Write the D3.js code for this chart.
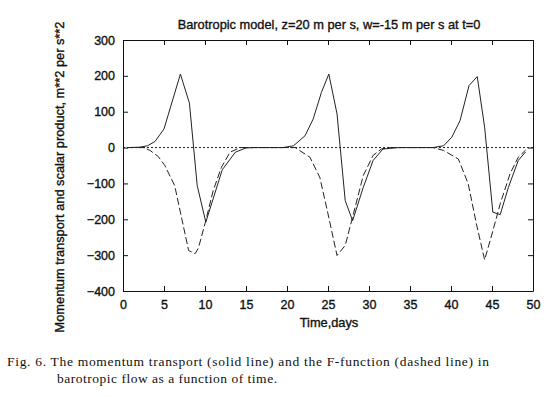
<!DOCTYPE html>
<html>
  <head>
    <meta charset="utf-8" />
    <title>Barotropic model</title>
    <script src="https://d3js.org/d3.v7.min.js"></script>
    <style>
      body { margin: 0; background: #fff; }
      svg { display: block; background: #fff; }
      .ax text, .lab { font-family: "Liberation Sans", Arial, sans-serif; fill: #111; stroke: #111; stroke-width: 0.35px; }
      .ax text { font-size: 12.5px; }
    </style>
  </head>
  <body>
    <svg width="551" height="397"></svg>
    <script>
      // momentum transport (solid line)
      const solidDays = [0.5, 2, 3, 3.9, 5, 7, 8.1, 9.05, 10.1, 12.1, 13.7, 15, 16,
        19.5, 20.8, 22.2, 23.2, 24.2, 25.1, 26.1, 27.1, 28.0, 29.3, 30.5, 31.7, 33.6,
        37.8, 39.1, 40.1, 41.1, 42.2, 43.2, 44.1, 45.1, 46.0, 47.0, 48.2, 49.1];
      const solidVals = [0, 1, 5, 17, 52, 205, 124, -106, -208, -62, -13, -1, 0,
        0, 5, 33, 80, 154, 205, 94, -148, -204, -111, -36, -4, 0,
        0, 5, 29, 75, 173, 198, 57, -180, -187, -111, -36, -12];

      // F-function (dashed line)
      const dashDays = [0.5, 2.5, 3.3, 4.3, 5.1, 6.3, 8.0, 8.8, 9.2, 10.0, 11.0, 12.0, 13.05, 14.3,
        21.0, 22.8, 24.0, 25.0, 26.1, 27.1, 28.1, 29.3, 30.5, 31.5, 32.6,
        37.8, 39.1, 40.9, 42.1, 43.1, 44.1, 45.0, 46.0, 47.2, 48.2, 49.1];
      const dashVals = [0, 0, -8, -25, -50, -106, -287, -296, -280, -212, -120, -55, -13, 0,
        0, -27, -83, -185, -301, -273, -185, -78, -22, -4, 0,
        0, -8, -32, -101, -213, -313, -241, -157, -73, -27, -7];

      const xTicks = [0, 5, 10, 15, 20, 25, 30, 35, 40, 45, 50];
      const yTicks = [-400, -300, -200, -100, 0, 100, 200, 300];

      const svg = d3.select("svg");
      const plotL = 123, plotR = 533, plotT = 40, plotB = 291;

      const x = d3.scaleLinear().domain([0, 50]).range([plotL, plotR]);
      const y = d3.scaleLinear().domain([-400, 300]).range([plotB, plotT]);

      // frame with inward ticks on all sides
      const tk = 5;
      svg.append("g").attr("class", "ax").attr("transform", `translate(0,${plotB})`)
        .call(d3.axisBottom(x).tickValues(xTicks).tickSizeInner(-tk).tickSizeOuter(0).tickPadding(9));
      svg.append("g").attr("class", "ax").attr("transform", `translate(0,${plotT})`)
        .call(d3.axisTop(x).tickValues(xTicks).tickSizeInner(-tk).tickSizeOuter(0).tickFormat(""));
      svg.append("g").attr("class", "ax").attr("transform", `translate(${plotL},0)`)
        .call(d3.axisLeft(y).tickValues(yTicks).tickSizeInner(-tk).tickSizeOuter(0).tickPadding(8));
      svg.append("g").attr("class", "ax").attr("transform", `translate(${plotR},0)`)
        .call(d3.axisRight(y).tickValues(yTicks).tickSizeInner(-tk).tickSizeOuter(0).tickFormat(""));
      svg.selectAll(".ax .domain, .ax line").attr("stroke", "#111").attr("stroke-width", 1);
      svg.selectAll(".ax text").attr("fill", "#111");

      // zero line (dotted)
      svg.append("line")
        .attr("x1", x(0)).attr("x2", x(50)).attr("y1", y(0)).attr("y2", y(0))
        .attr("stroke", "#222").attr("stroke-width", 1).attr("stroke-dasharray", "2,2");

      const line = d3.line().x(d => x(d[0])).y(d => y(d[1]));

      svg.append("path")
        .datum(solidDays.map((d, i) => [d, solidVals[i]]))
        .attr("d", line).attr("fill", "none")
        .attr("stroke", "#222").attr("stroke-width", 1);

      svg.append("path")
        .datum(dashDays.map((d, i) => [d, dashVals[i]]))
        .attr("d", line).attr("fill", "none")
        .attr("stroke", "#222").attr("stroke-width", 1).attr("stroke-dasharray", "7,3");

      // titles
      svg.append("text").attr("class", "lab").attr("x", 329).attr("y", 29).attr("text-anchor", "middle")
        .style("font-size", "12.8px")
        .text("Barotropic model, z=20 m per s, w=-15 m per s at t=0");
      svg.append("text").attr("class", "lab").attr("x", 329).attr("y", 327).attr("text-anchor", "middle")
        .style("font-size", "12.8px")
        .text("Time,days");
      svg.append("text").attr("class", "lab").attr("transform", "translate(64,177) rotate(-90)").attr("text-anchor", "middle")
        .style("font-size", "12.8px")
        .text("Momentum transport and scalar product, m**2 per s**2");

      // caption
      const serif = "'Liberation Serif', 'DejaVu Serif', serif";
      svg.append("text").attr("x", 7).attr("y", 366)
        .style("font-family", serif).style("font-size", "13.5px").attr("fill", "#111")
        .attr("textLength", 482).attr("lengthAdjust", "spacing")
        .text("Fig. 6. The momentum transport (solid line) and the F-function (dashed line) in");
      svg.append("text").attr("x", 57).attr("y", 383)
        .style("font-family", serif).style("font-size", "13.5px").attr("fill", "#111")
        .attr("textLength", 220).attr("lengthAdjust", "spacing")
        .text("barotropic flow as a function of time.");
    </script>
  </body>
</html>
